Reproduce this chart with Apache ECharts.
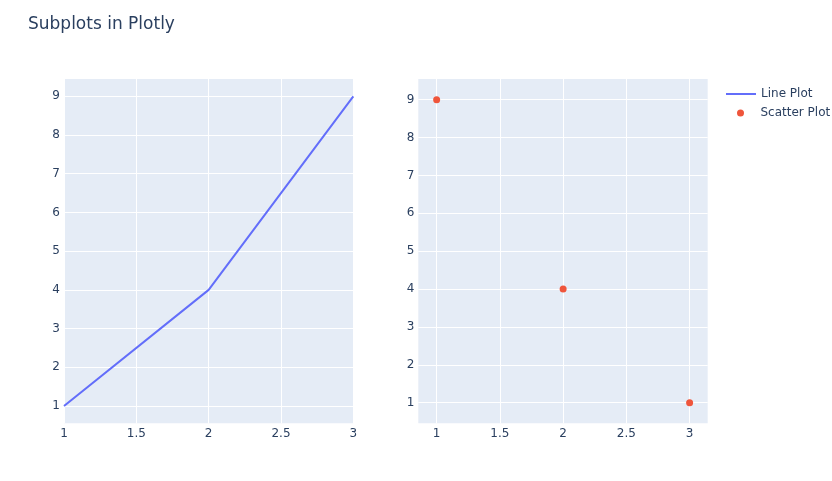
<!DOCTYPE html>
<html>
<head>
<meta charset="utf-8">
<script src="https://cdn.jsdelivr.net/npm/echarts@6/dist/echarts.min.js"></script>
<style>html,body{margin:0;padding:0;background:#fff}#c{width:832px;height:481px}</style>
</head>
<body>
<div id="c"></div>
<script>
const lineX = [1, 2, 3];
const lineY = [1, 4, 9];
const scatterX = [1, 2, 3];
const scatterY = [9, 4, 1];
const xTicks = [1, 1.5, 2, 2.5, 3];
const yTicks = [1, 2, 3, 4, 5, 6, 7, 8, 9];

const FONT = '"DejaVu Sans", verdana, arial, sans-serif';
const TXT = '#2a3f5f';
const chart = echarts.init(document.getElementById('c'), null, {renderer: 'canvas'});

function xAxis(idx, min, max) {
  return {
    type: 'value', gridIndex: idx, min: min, max: max,
    axisLine: {show: false}, axisTick: {show: false, customValues: xTicks},
    axisLabel: {customValues: xTicks, color: TXT, fontFamily: FONT, fontSize: 12, margin: 5},
    splitLine: {show: true, lineStyle: {color: '#ffffff', width: 1}}
  };
}
function yAxis(idx, min, max) {
  return {
    type: 'value', gridIndex: idx, min: min, max: max,
    axisLine: {show: false}, axisTick: {show: false, customValues: yTicks},
    axisLabel: {customValues: yTicks, color: TXT, fontFamily: FONT, fontSize: 12, margin: 4},
    splitLine: {show: true, lineStyle: {color: '#ffffff', width: 1}}
  };
}

chart.setOption({
  animation: false,
  title: {
    text: 'Subplots in Plotly', left: 23, top: 11,
    textStyle: {color: TXT, fontFamily: FONT, fontSize: 17, fontWeight: 'normal'}
  },
  legend: [
    {
      data: [{name: 'Line Plot', icon: 'rect'}], left: 726, top: 88, padding: 0,
      itemWidth: 30, itemHeight: 2,
      textStyle: {color: TXT, fontFamily: FONT, fontSize: 12}
    },
    {
      data: [{name: 'Scatter Plot', icon: 'circle'}], left: 737, top: 107, padding: 0,
      itemWidth: 30, itemHeight: 7,
      textStyle: {color: TXT, fontFamily: FONT, fontSize: 12}
    }
  ],
  grid: [
    {left: 64, top: 79, width: 289.3, height: 344.3, show: true, backgroundColor: '#E5ECF6', borderWidth: 0},
    {left: 418.3, top: 79, width: 289.4, height: 344.3, show: true, backgroundColor: '#E5ECF6', borderWidth: 0}
  ],
  xAxis: [xAxis(0, 1, 3), xAxis(1, 0.855, 3.143)],
  yAxis: [yAxis(0, 0.553, 9.447), yAxis(1, 0.455, 9.545)],
  series: [
    {
      name: 'Line Plot', type: 'line', xAxisIndex: 0, yAxisIndex: 0,
      data: lineX.map((x, i) => [x, lineY[i]]),
      symbol: 'none', lineStyle: {color: '#636efa', width: 2}, itemStyle: {color: '#636efa'}
    },
    {
      name: 'Scatter Plot', type: 'scatter', xAxisIndex: 1, yAxisIndex: 1,
      data: scatterX.map((x, i) => [x, scatterY[i]]),
      symbolSize: 7, itemStyle: {color: '#EF553B', opacity: 1}
    }
  ]
});
</script>
</body>
</html>
